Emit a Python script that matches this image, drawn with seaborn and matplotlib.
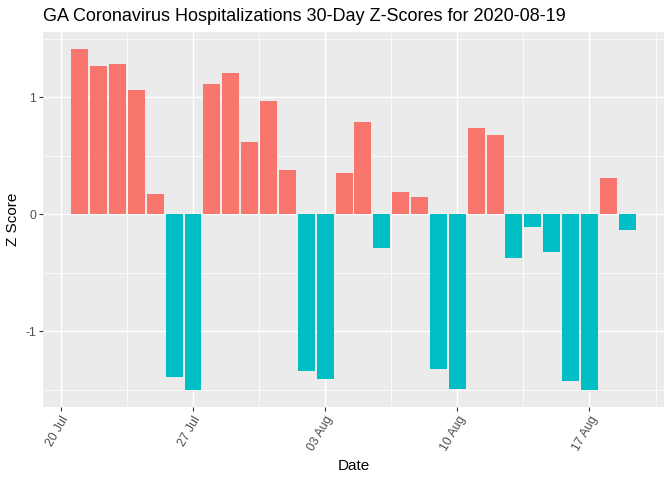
import pandas as pd
import numpy as np
import matplotlib
matplotlib.use("Agg")
import matplotlib.pyplot as plt
import matplotlib.dates as mdates
import matplotlib.ticker as mtick
import seaborn as sns

# ---- data ----
dates = pd.date_range("2020-07-21", "2020-08-19", freq="D")
z_scores = [1.41, 1.27, 1.28, 1.06, 0.17, -1.39, -1.50,
            1.11, 1.21, 0.62, 0.97, 0.38, -1.34, -1.41,
            0.35, 0.79, -0.29, 0.19, 0.15, -1.32, -1.49,
            0.74, 0.68, -0.37, -0.11, -0.32, -1.42, -1.50,
            0.31, -0.13]
tick_dates = pd.to_datetime(["2020-07-20", "2020-07-27", "2020-08-03",
                             "2020-08-10", "2020-08-17"])
y_ticks = [-1, 0, 1]

df = pd.DataFrame({"Date": dates, "Z": z_scores})
df["x"] = mdates.date2num(df["Date"].dt.to_pydatetime())
df["sign"] = np.where(df["Z"] >= 0, "pos", "neg")

sns.set_theme(style="darkgrid")
plt.rcParams["font.family"] = ["Liberation Sans", "DejaVu Sans"]

fig = plt.figure(figsize=(6.72, 4.8), dpi=100)
ax = fig.add_axes([0.064, 0.152, 0.924, 0.781])
ax.set_facecolor("#EBEBEB")

sns.barplot(data=df, x="x", y="Z", hue="sign", native_scale=True,
            palette={"pos": "#F8766D", "neg": "#00BFC4"}, width=0.9,
            saturation=1, errorbar=None, legend=False, ax=ax, zorder=3)
for p in ax.patches:
    p.set_edgecolor("none")
    p.set_linewidth(0)

# axis limits like ggplot's 5% expansion
x_lo = df["x"].min() - 0.45
x_hi = df["x"].max() + 0.45
pad = 0.05 * (x_hi - x_lo)
ax.set_xlim(x_lo - pad, x_hi + pad)
y_lo, y_hi = min(df["Z"].min(), 0), max(df["Z"].max(), 0)
ypad = 0.05 * (y_hi - y_lo)
ax.set_ylim(y_lo - ypad, y_hi + ypad)

# ticks and gridlines
tnum = mdates.date2num(tick_dates.to_pydatetime())
ax.xaxis.set_major_locator(mtick.FixedLocator(tnum))
ax.xaxis.set_minor_locator(mtick.FixedLocator(np.append(tnum + 3.5, tnum[0] - 3.5)))
ax.set_xticklabels([d.strftime("%d %b") for d in tick_dates], rotation=60,
                   ha="right", rotation_mode="anchor")
ax.yaxis.set_major_locator(mtick.FixedLocator(y_ticks))
ax.yaxis.set_minor_locator(mtick.FixedLocator([-1.5, -0.5, 0.5, 1.5]))
ax.set_yticklabels([str(v) for v in y_ticks])

ax.grid(which="major", color="white", linewidth=1.07, zorder=0)
ax.grid(which="minor", color="white", linewidth=0.53, zorder=0)
ax.set_axisbelow(True)
ax.tick_params(which="major", length=2.75, width=0.8, color="#333333",
               labelsize=8.8, labelcolor="#4D4D4D", pad=2.2,
               bottom=True, left=True)
ax.tick_params(which="minor", length=0)
for s in ax.spines.values():
    s.set_visible(False)

ax.set_xlabel("Date", fontsize=11, color="black", labelpad=4)
ax.set_ylabel("Z Score", fontsize=11, color="black", labelpad=4)
ax.set_title("GA Coronavirus Hospitalizations 30-Day Z-Scores for 2020-08-19",
             loc="left", fontsize=13, color="black", pad=8)

fig.savefig("out.png", dpi=100)
